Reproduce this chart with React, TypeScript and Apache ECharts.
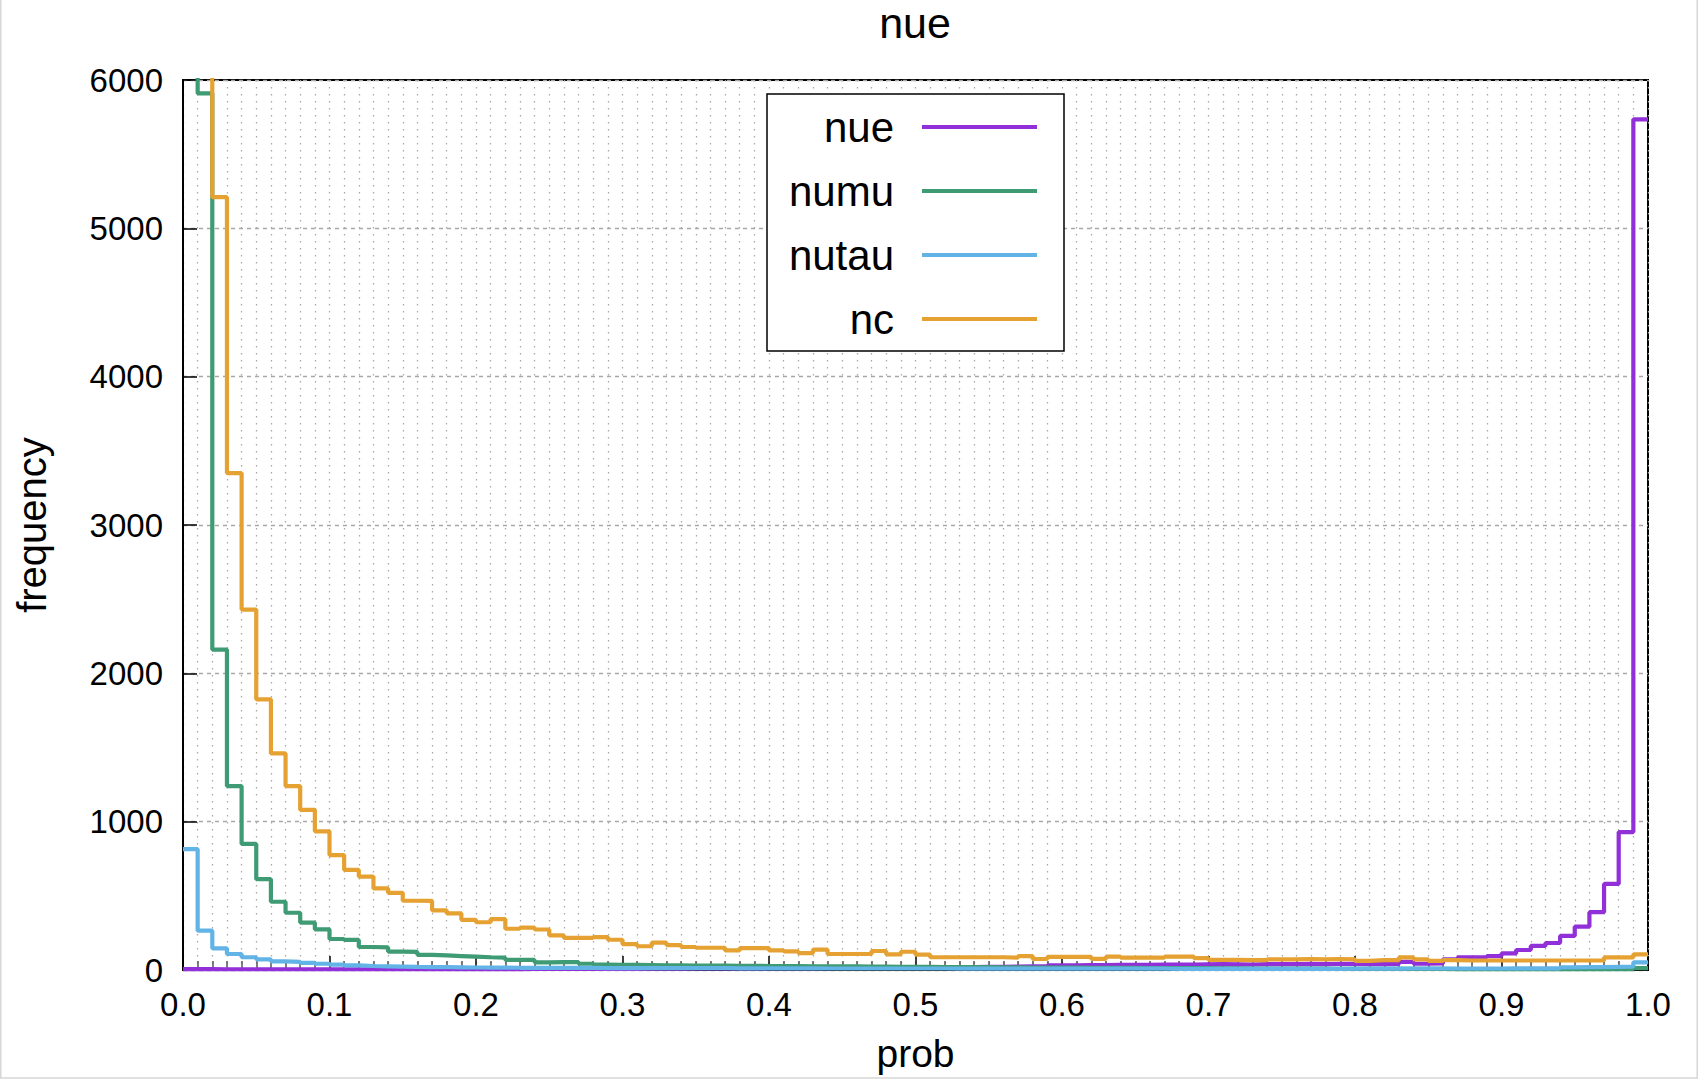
import React, { useEffect, useRef } from 'react';
import * as echarts from 'echarts';

const FONT = '"Liberation Sans", Arial, Helvetica, sans-serif';

const BIN_WIDTH = 0.01;
const X_MIN = 0;
const X_MAX = 1;
const X_INTERVAL = 0.1;
const Y_MIN = 0;
const Y_MAX = 6000;
const Y_INTERVAL = 1000;

const SERIES_NAMES = ['nue', 'numu', 'nutau', 'nc'];
const COLORS = ['#9130d8', '#3f9b74', '#62b3e6', '#e5a232'];

// histogram counts per 0.01 bin (bin i covers [i*0.01, (i+1)*0.01])
const NUE = [
  6, 6, 5, 5, 5, 5, 5, 5, 5, 5,
  5, 5, 5, 5, 5, 5, 6, 6, 6, 6,
  6, 6, 6, 7, 7, 7, 7, 8, 8, 8,
  8, 9, 9, 9, 10, 10, 10, 11, 11, 12,
  12, 13, 13, 14, 14, 15, 15, 16, 17, 17,
  18, 18, 19, 20, 21, 22, 23, 25, 27, 32,
  31, 33, 33, 34, 35, 35, 36, 37, 36, 38,
  39, 38, 37, 39, 40, 40, 41, 40, 42, 41,
  40, 40, 41, 55, 42, 44, 72, 85, 86, 94,
  112, 135, 162, 182, 230, 292, 390, 580, 930, 5735,
];

const NUMU = [
  8500, 5910, 2160, 1240, 850, 612, 460, 386, 320, 274,
  209, 203, 155, 152, 124, 122, 102, 98, 94, 90,
  86, 83, 68, 68, 52, 53, 54, 42, 36, 35,
  34, 33, 32, 31, 30, 30, 29, 28, 28, 27,
  26, 26, 25, 25, 24, 24, 23, 23, 22, 22,
  21, 20, 20, 19, 19, 18, 18, 17, 17, 16,
  16, 15, 15, 14, 14, 13, 13, 12, 12, 12,
  11, 11, 10, 10, 10, 9, 9, 9, 8, 8,
  8, 8, 7, 7, 7, 7, 6, 6, 6, 6,
  6, 6, 6, 5, 5, 5, 5, 5, 5, 12,
];

const NUTAU = [
  815, 265, 146, 108, 86, 72, 58, 55, 48, 42,
  36, 31, 27, 25, 23, 21, 20, 19, 18, 17,
  16, 16, 15, 15, 15, 14, 14, 14, 13, 13,
  13, 13, 12, 12, 12, 12, 12, 11, 11, 11,
  11, 11, 11, 10, 10, 10, 10, 10, 10, 10,
  10, 10, 9, 9, 9, 9, 9, 9, 9, 9,
  9, 9, 9, 9, 9, 9, 9, 8, 8, 8,
  8, 8, 8, 8, 8, 8, 8, 8, 8, 9,
  9, 9, 9, 10, 10, 10, 10, 10, 10, 10,
  11, 11, 11, 11, 18, 19, 20, 21, 22, 52,
];

const NC = [
  9000, 7200, 5210, 3350, 2430, 1825, 1460, 1240, 1080, 935,
  775, 675, 630, 550, 520, 467, 466, 402, 382, 338,
  322, 343, 278, 286, 273, 233, 216, 216, 222, 204,
  174, 160, 184, 168, 155, 150, 150, 132, 148, 148,
  132, 126, 114, 137, 108, 108, 108, 128, 106, 123,
  104, 86, 86, 86, 86, 86, 84, 94, 74, 88,
  88, 88, 75, 90, 83, 83, 83, 90, 90, 80,
  68, 68, 66, 66, 72, 72, 74, 72, 74, 72,
  62, 66, 66, 85, 72, 62, 67, 64, 64, 64,
  64, 64, 64, 64, 64, 64, 64, 85, 85, 106,
];

const SERIES_VALUES = [NUE, NUMU, NUTAU, NC];

function toSteps(values: number[]): number[][] {
  const pts = values.map((v, i) => [+(i * BIN_WIDTH).toFixed(2), v]);
  pts.push([+(values.length * BIN_WIDTH).toFixed(2), values[values.length - 1]]);
  return pts;
}

export default function App() {
  const ref = useRef<HTMLDivElement>(null);

  useEffect(() => {
    if (!ref.current) return;
    const chart = echarts.init(ref.current, null, { renderer: 'svg' });

    const dotted = { color: '#a8a8a8', type: [1.5, 5.5], width: 1.3 };

    const option: any = {
      animation: false,
      backgroundColor: '#ffffff',
      textStyle: { fontFamily: FONT },
      title: {
        text: 'nue',
        left: 915,
        top: 1,
        textAlign: 'center',
        padding: 0,
        textStyle: { fontSize: 43, fontWeight: 'normal', color: '#000', fontFamily: FONT },
      },
      grid: {
        left: 183,
        top: 80,
        width: 1465,
        height: 890,
        show: true,
        borderColor: '#000',
        borderWidth: 2,
        backgroundColor: 'transparent',
      },
      legend: {
        orient: 'vertical',
        left: 767,
        top: 94,
        align: 'right',
        icon: 'rect',
        itemWidth: 115,
        itemHeight: 4,
        itemGap: 22,
        padding: [12, 27, 11, 17],
        backgroundColor: '#ffffff',
        borderColor: '#000',
        borderWidth: 1.5,
        borderRadius: 0,
        selectedMode: false,
        formatter: '{t|{name}}',
        textStyle: {
          color: '#000',
          fontFamily: FONT,
          rich: {
            t: {
              width: 110,
              align: 'right',
              fontSize: 42,
              lineHeight: 47,
              padding: [0, 23, 0, 0],
              color: '#000',
              fontFamily: FONT,
            },
          },
        },
        data: SERIES_NAMES,
      },
      xAxis: {
        type: 'value',
        min: X_MIN,
        max: X_MAX,
        interval: X_INTERVAL,
        name: 'prob',
        nameLocation: 'middle',
        nameGap: 64,
        nameTextStyle: { fontSize: 39, color: '#000', fontFamily: FONT },
        axisLine: { show: true, onZero: false, lineStyle: { color: '#000', width: 2 } },
        axisTick: { show: true, inside: true, length: 14, lineStyle: { color: '#000', width: 1.5 } },
        minorTick: { show: true, splitNumber: 10, length: 9, lineStyle: { color: '#555', width: 1.5 } },
        axisLabel: {
          fontSize: 33,
          color: '#000',
          margin: 18,
          fontFamily: FONT,
          formatter: (v: number) => v.toFixed(1),
        },
        splitLine: { show: true, lineStyle: dotted },
        minorSplitLine: { show: true, lineStyle: dotted },
      },
      yAxis: {
        type: 'value',
        min: Y_MIN,
        max: Y_MAX,
        interval: Y_INTERVAL,
        name: 'frequency',
        nameLocation: 'middle',
        nameGap: 131,
        nameTextStyle: { fontSize: 40, color: '#000', fontFamily: FONT },
        axisLine: { show: true, onZero: false, lineStyle: { color: '#000', width: 2 } },
        axisTick: { show: true, inside: true, length: 14, lineStyle: { color: '#000', width: 1.5 } },
        axisLabel: {
          fontSize: 33,
          color: '#000',
          margin: 20,
          fontFamily: FONT,
          formatter: (v: number) => String(v),
        },
        splitLine: { show: true, lineStyle: { color: '#a8a8a8', type: [4, 4], width: 1.3 } },
      },
      graphic: [
        {
          type: 'rect',
          silent: true,
          shape: { x: 0.75, y: -2, width: 1696.5, height: 1080 },
          style: { fill: 'none', stroke: '#d6d6d6', lineWidth: 1.5 },
        },
      ],
      series: SERIES_NAMES.map((name, i) => ({
        name,
        type: 'line',
        step: 'end',
        symbol: 'none',
        showSymbol: false,
        clip: true,
        color: COLORS[i],
        lineStyle: { color: COLORS[i], width: 4.2 },
        data: toSteps(SERIES_VALUES[i]),
        z: 2 + i,
      })),
    };

    chart.setOption(option);
    return () => chart.dispose();
  }, []);

  return (
    <div
      ref={ref}
      style={{ position: 'fixed', left: 0, top: 0, width: 1699, height: 1081, background: '#fff' }}
    />
  );
}
